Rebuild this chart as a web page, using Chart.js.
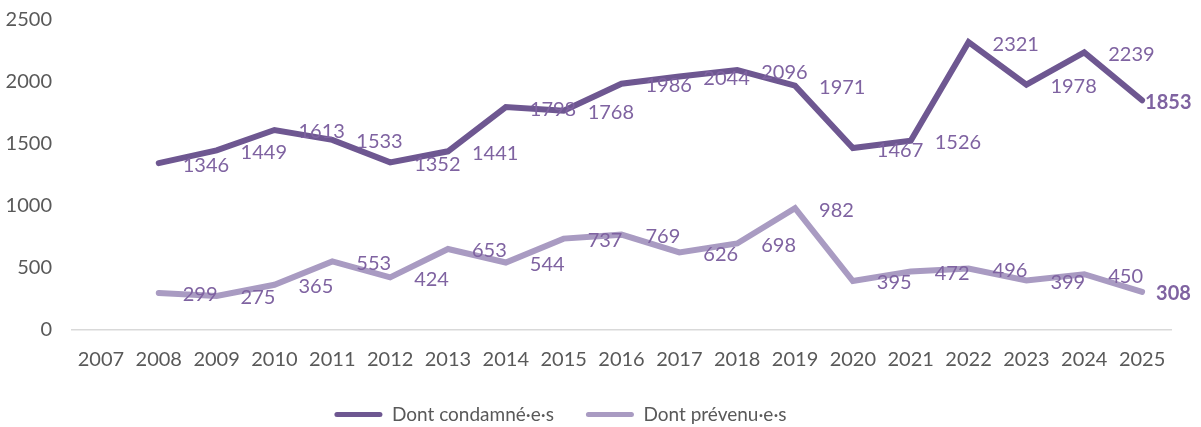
<!DOCTYPE html>
<html>
<head>
<meta charset="utf-8">
<script src="https://cdn.jsdelivr.net/npm/chart.js@4/dist/chart.umd.min.js"></script>
<style>
body { margin: 0; background: #fff; }
</style>
</head>
<body>
<canvas id="myChart" width="1201" height="427"></canvas>
<script>
var annees = ["2007", "2008", "2009", "2010", "2011", "2012", "2013", "2014", "2015", "2016",
              "2017", "2018", "2019", "2020", "2021", "2022", "2023", "2024", "2025"];
var condamnes = [null, 1346, 1449, 1613, 1533, 1352, 1441, 1798, 1768, 1986,
                 2044, 2096, 1971, 1467, 1526, 2321, 1978, 2239, 1853];
var prevenus = [null, 299, 275, 365, 553, 424, 653, 544, 737, 769,
                626, 698, 982, 395, 472, 496, 399, 450, 308];
var yTicks = [0, 500, 1000, 1500, 2000, 2500];

var police = "Lato, 'Open Sans', sans-serif";
var gris = "#595959";
var couleurLabel = "#7F63A1";

// etiquettes de valeurs, a droite du point
var etiquettes = {
  id: "etiquettes",
  afterLayout: function(chart) {
    // legende un peu decalee a gauche comme dans l'original
    chart.legend.left -= 50;
  },
  afterDatasetsDraw: function(chart) {
    var ctx = chart.ctx;
    ctx.save();
    ctx.fillStyle = couleurLabel;
    ctx.textAlign = "left";
    ctx.textBaseline = "middle";
    chart.data.datasets.forEach(function(ds, d) {
      var meta = chart.getDatasetMeta(d);
      var dernier = ds.data.length - 1;
      meta.data.forEach(function(pt, i) {
        var v = ds.data[i];
        if (v === null) return;
        if (i === dernier) {
          ctx.font = "bold 20px " + police;
          ctx.fillText(String(v), pt.x + (d === 0 ? 3 : 14), pt.y + 2);
        } else {
          ctx.font = "20px " + police;
          ctx.fillText(String(v), pt.x + 24, pt.y + 2);
        }
      });
    });
    ctx.restore();
  }
};

new Chart("myChart", {
  type: "line",
  data: {
    labels: annees,
    datasets: [{
      label: "Dont condamné·e·s",
      data: condamnes,
      borderColor: "#6E5791",
      backgroundColor: "#6E5791",
      borderWidth: 6,
      borderCapStyle: "round",
      pointRadius: 0,
      tension: 0
    }, {
      label: "Dont prévenu·e·s",
      data: prevenus,
      borderColor: "#A99BC2",
      backgroundColor: "#A99BC2",
      borderWidth: 6,
      borderCapStyle: "round",
      pointRadius: 0,
      tension: 0
    }]
  },
  options: {
    responsive: false,
    animation: false,
    layout: { padding: { top: 20, right: 30, left: 0, bottom: -7 } },
    plugins: {
      tooltip: { enabled: false },
      legend: {
        position: "bottom",
        labels: {
          color: gris,
          font: { family: police, size: 19 },
          boxWidth: 48,
          boxHeight: 5,
          useBorderRadius: true,
          borderRadius: 2.5,
          padding: 32,
          generateLabels: function(chart) {
            var items = Chart.defaults.plugins.legend.labels.generateLabels(chart);
            items.forEach(function(it) { it.lineWidth = 0; });
            return items;
          }
        }
      }
    },
    scales: {
      x: {
        offset: true,
        grid: { display: false, drawTicks: false },
        border: { display: true, color: "#D9D9D9", width: 1.5 },
        ticks: { color: gris, font: { family: police, size: 20 }, padding: 18, maxRotation: 0 },
        afterFit: function(scale) { scale.height = 43; }
      },
      y: {
        min: 0,
        max: 2500,
        afterBuildTicks: function(scale) {
          scale.ticks = yTicks.map(function(v) { return { value: v }; });
        },
        grid: { display: false, drawTicks: false },
        border: { display: false },
        ticks: {
          color: gris,
          font: { family: police, size: 20 },
          padding: 20,
          callback: function(v) { return String(v); }
        },
        afterFit: function(scale) {
          scale.width = 72;
          scale.paddingTop = 0;
          scale.paddingBottom = 0;
        }
      }
    }
  },
  plugins: [etiquettes]
});
</script>
</body>
</html>
